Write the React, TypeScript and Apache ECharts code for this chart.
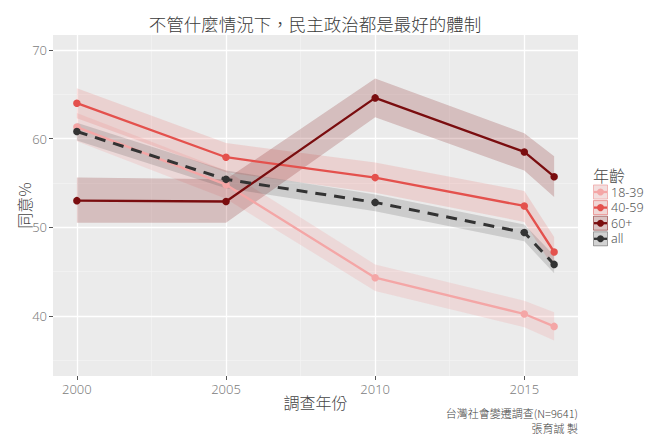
import React, { useEffect, useRef } from "react";
import * as echarts from "echarts";

const years = [2000, 2005, 2010, 2015, 2016];
const groups = ["18-39", "40-59", "60+", "all"];

const mid1839 = [61.3, 54.8, 44.3, 40.2, 38.8];
const lo1839 = [59.7, 53.2, 42.8, 38.7, 37.2];
const hi1839 = [62.9, 56.4, 45.8, 41.7, 40.4];

const mid4059 = [64.0, 57.9, 55.6, 52.4, 47.2];
const lo4059 = [62.3, 56.2, 53.9, 50.6, 45.3];
const hi4059 = [65.7, 59.5, 57.3, 54.1, 48.9];

const mid60 = [53.0, 52.9, 64.6, 58.5, 55.7];
const lo60 = [50.5, 50.5, 62.4, 56.4, 53.4];
const hi60 = [55.6, 55.4, 66.8, 60.6, 58.0];

const midAll = [60.8, 55.4, 52.8, 49.4, 45.8];
const loAll = [59.8, 54.4, 51.8, 48.4, 44.8];
const hiAll = [61.8, 56.4, 53.7, 50.3, 46.8];

const yTicks = [40, 50, 60, 70];
const yMinor = [35, 45, 55, 65];
const xTicks = [2000, 2005, 2010, 2015];
const xMinor = [2002.5, 2007.5, 2012.5];

const title = "不管什麼情況下，民主政治都是最好的體制";
const xName = "調查年份";
const yName = "同意%";
const legendTitle = "年齡";
const caption1 = "台灣社會變遷調查(N=9641)";
const caption2 = "張育誠 製";

const lineColors = ["#f4a6a6", "#e4514d", "#7a0d0f", "#333333"];
const bandColors = [
  "rgba(243,150,150,0.22)",
  "rgba(232,82,79,0.17)",
  "rgba(123,12,12,0.2)",
  "rgba(51,51,51,0.17)",
];
const keyBorders = [
  "rgba(243,150,150,0.6)",
  "rgba(232,82,79,0.5)",
  "rgba(123,12,12,0.5)",
  "rgba(51,51,51,0.4)",
];

const FONT = "'Noto Sans CJK TC', 'Noto Sans', sans-serif";
const LATIN = "'Noto Sans', 'Noto Sans CJK TC', sans-serif";

export default function App() {
  const ref = useRef<HTMLDivElement>(null);
  useEffect(() => {
    document.body.style.margin = "0";
    if (!ref.current) return;
    const chart = echarts.init(ref.current, null, { renderer: "svg" });
    const mids = [mid1839, mid4059, mid60, midAll];
    const los = [lo1839, lo4059, lo60, loAll];
    const his = [hi1839, hi4059, hi60, hiAll];

    const bandSeries = groups.map((g, gi) => ({
      type: "custom",
      name: g + " band",
      silent: true,
      z: 2,
      clip: true,
      data: years.map((y, i) => [y, los[gi][i], his[gi][i]]),
      encode: { x: 0, y: [1, 2] },
      renderItem: (params: any, api: any) => {
        if (params.dataIndex !== 0) return null;
        const pts: number[][] = [];
        years.forEach((y, i) => pts.push(api.coord([y, his[gi][i]])));
        for (let i = years.length - 1; i >= 0; i--) pts.push(api.coord([years[i], los[gi][i]]));
        return { type: "polygon", shape: { points: pts }, style: { fill: bandColors[gi], stroke: "none" } };
      },
    }));

    const lineSeries = groups.map((g, gi) => ({
      type: "line",
      name: g,
      z: 3 + gi,
      silent: true,
      data: years.map((y, i) => [y, mids[gi][i]]),
      symbol: "circle",
      symbolSize: 7.5,
      showSymbol: true,
      itemStyle: { color: lineColors[gi] },
      lineStyle: {
        color: lineColors[gi],
        width: gi === 3 ? 3 : 2.3,
        type: gi === 3 ? [11, 8] : "solid",
      },
    }));

    const gridLines = {
      type: "line",
      name: "grid",
      z: 1,
      silent: true,
      data: [[2000, 50]],
      symbol: "none",
      lineStyle: { opacity: 0 },
      markLine: {
        silent: true,
        z: 1,
        symbol: ["none", "none"],
        label: { show: false },
        animation: false,
        data: [
          ...yMinor.map((v) => ({ yAxis: v, lineStyle: { color: "#f4f4f4", width: 0.7, type: "solid" } })),
          ...xMinor.map((v) => ({ xAxis: v, lineStyle: { color: "#f4f4f4", width: 0.7, type: "solid" } })),
          ...yTicks.map((v) => ({ yAxis: v, lineStyle: { color: "#ffffff", width: 1.3, type: "solid" } })),
          ...xTicks.map((v) => ({ xAxis: v, lineStyle: { color: "#ffffff", width: 1.3, type: "solid" } })),
        ],
      },
    };

    const legendRows = groups.map((g, gi) => {
      const cy = 192 + gi * 15.6;
      return {
        type: "group",
        children: [
          { type: "rect", shape: { x: 593, y: cy - 7.5, width: 15, height: 15 }, style: { fill: "#f2f2f2" } },
          {
            type: "rect",
            shape: { x: 593.5, y: cy - 7, width: 14, height: 14 },
            style: { fill: bandColors[gi], stroke: keyBorders[gi], lineWidth: 1 },
          },
          {
            type: "line",
            shape: { x1: 594, y1: cy, x2: 607, y2: cy },
            style: { stroke: lineColors[gi], lineWidth: 2.3 },
          },
          { type: "circle", shape: { cx: 600.5, cy, r: 3.5 }, style: { fill: lineColors[gi] } },
          {
            type: "text",
            x: 611,
            y: cy,
            style: { text: g, font: `300 12.5px ${LATIN}`, fill: "#555", verticalAlign: "middle", textAlign: "left" },
          },
        ],
      };
    });

    chart.setOption({
      animation: false,
      textStyle: { fontFamily: FONT },
      grid: {
        left: 53,
        right: 82,
        top: 35,
        bottom: 68,
        show: true,
        backgroundColor: "#ebebeb",
        borderWidth: 0,
        containLabel: false,
      },
      xAxis: {
        type: "value",
        min: 1999.2,
        max: 2016.8,
        name: xName,
        nameLocation: "middle",
        nameGap: 18,
        nameMoveOverlap: false,
        nameTextStyle: { fontSize: 16, fontWeight: 300, color: "#444", fontFamily: FONT },
        axisLine: { show: false },
        axisTick: { show: true, customValues: xTicks, length: 4, lineStyle: { color: "#555" } },
        axisLabel: {
          customValues: xTicks,
          formatter: (v: number) => String(v),
          color: "#808080",
          fontSize: 13,
          fontWeight: 300,
          margin: 6,
          fontFamily: LATIN,
        },
        splitLine: { show: false },
      },
      yAxis: {
        type: "value",
        min: 33.2,
        max: 71.7,
        name: yName,
        nameLocation: "middle",
        nameGap: 21,
        nameRotate: 90,
        nameMoveOverlap: false,
        nameTextStyle: { fontSize: 16, fontWeight: 300, color: "#444", fontFamily: FONT },
        axisLine: { show: false },
        axisTick: { show: true, customValues: yTicks, length: 4, lineStyle: { color: "#555" } },
        axisLabel: {
          customValues: yTicks,
          formatter: (v: number) => String(v),
          color: "#808080",
          fontSize: 13,
          fontWeight: 300,
          margin: 6,
          fontFamily: LATIN,
        },
        splitLine: { show: false },
      },
      graphic: [
        {
          type: "text",
          x: 315,
          y: 23,
          style: {
            text: title,
            font: `300 17.5px ${FONT}`,
            fill: "#3a3a3a",
            textAlign: "center",
            verticalAlign: "middle",
          },
        },
        {
          type: "text",
          x: 593,
          y: 175,
          style: { text: legendTitle, font: `300 16px ${FONT}`, fill: "#444", verticalAlign: "middle" },
        },
        ...legendRows,
        {
          type: "text",
          x: 578,
          y: 413,
          style: { text: caption1, font: `300 11px ${FONT}`, fill: "#444", textAlign: "right", verticalAlign: "middle" },
        },
        {
          type: "text",
          x: 578,
          y: 428,
          style: { text: caption2, font: `300 11px ${FONT}`, fill: "#444", textAlign: "right", verticalAlign: "middle" },
        },
      ],
      series: [gridLines, ...bandSeries, ...lineSeries],
    });
    return () => chart.dispose();
  }, []);
  return <div ref={ref} style={{ width: 660, height: 444 }} />;
}
